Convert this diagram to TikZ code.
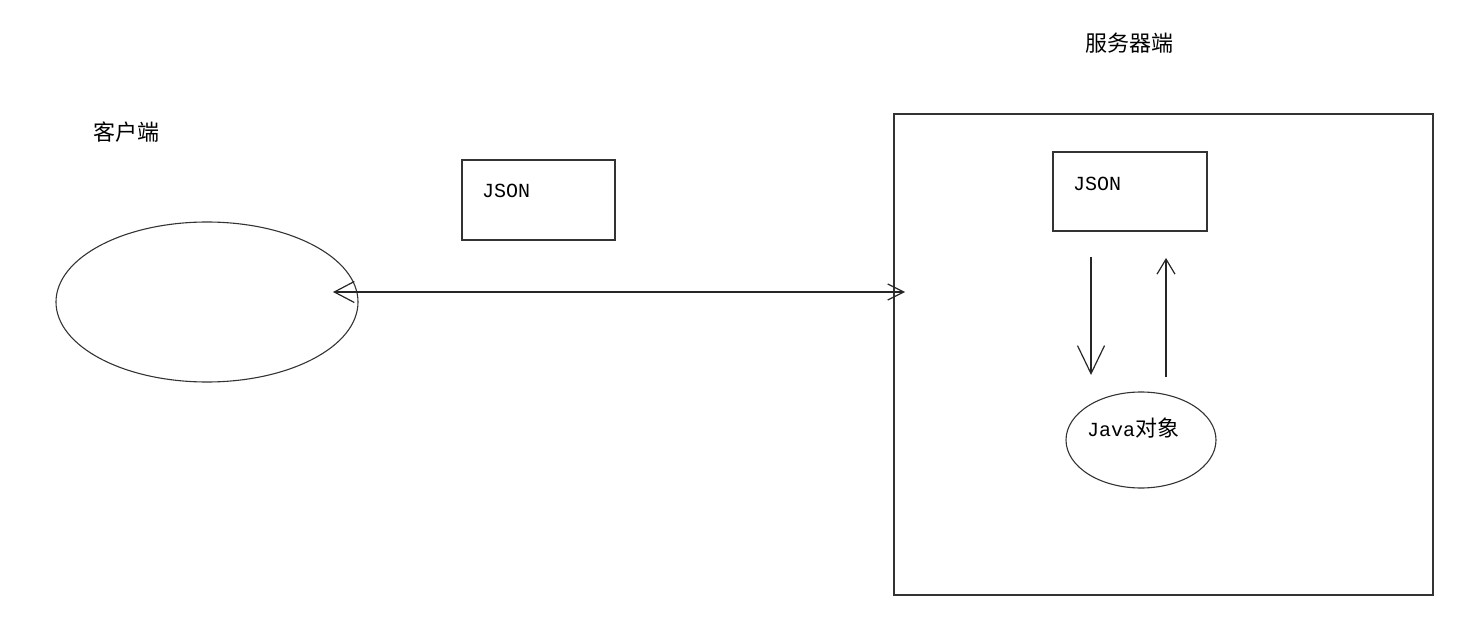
\documentclass[tikz,border=0pt]{standalone}
\usepackage{fontspec}
\setmonofont{Liberation Mono}
\newfontfamily\cjk{Noto Sans CJK SC}
\usetikzlibrary{shapes.geometric,arrows.meta,positioning}
\tikzset{mybox/.style={draw=black!80,line width=1.3pt,inner sep=0pt,outer sep=0pt}}
\tikzset{myell/.style={mybox,ellipse,line width=1.1pt}}
\tikzset{mytext/.style={font=\fontsize{20}{24}\selectfont\ttfamily,inner sep=0pt}}
\tikzset{mycjk/.style={font=\fontsize{22}{26}\selectfont\cjk,inner sep=0pt}}
\tikzset{myline/.style={line width=1.2pt,black!85}}
\tikzset{myarr/.style={myline,{Straight Barb[length=20pt,width=21pt]}-{Straight Barb[length=16pt,width=16pt]}}}

\begin{document}
\begin{tikzpicture}[x=1pt,y=1pt]
	\useasboundingbox (0,0) rectangle (1475,641);

	% client side
	\node[mycjk] (clientlabel) at (126,509) {客户端};
	\node[myell,minimum width=302pt,minimum height=160pt] (client) at (207,339) {};

	\node[mybox,minimum width=153pt,minimum height=80pt] (json1) at (538.5,441) {};
	\node[mytext,anchor=west] (jsontext1) at ([xshift=20pt,yshift=-31pt]json1.north west) {JSON};

	% server side
	\node[mycjk] (serverlabel) at (1129,598) {服务器端};
	\node[mybox,minimum width=539pt,minimum height=481pt] (server) at (1163.5,286.5) {};

	\node[mybox,minimum width=154pt,minimum height=79pt] (json2) at (1130,449.5) {};
	\node[mytext,anchor=west] (jsontext2) at ([xshift=20pt,yshift=-32pt]json2.north west) {JSON};

	\node[myell,minimum width=150pt,minimum height=96pt] (java) at (1141,201) {};
	\node[mytext,anchor=center] (javatext) at (1133,213) {Java{\cjk\fontsize{22}{26}\selectfont 对象}};

	\coordinate (cl) at (333,349);
	\coordinate (sv) at (905,349);
	\draw[myarr] (cl) -- (sv);

	\coordinate (down1) at (1091,384);
	\coordinate (down2) at (1091,266);
	\coordinate (up1) at (1166,264);
	\coordinate (up2) at (1166,383);
	\draw[myline,-{Straight Barb[length=28pt,width=27pt]}] (down1) -- (down2);
	\draw[myline,-{Straight Barb[length=15pt,width=18pt]}] (up1) -- (up2);
\end{tikzpicture}
\end{document}
